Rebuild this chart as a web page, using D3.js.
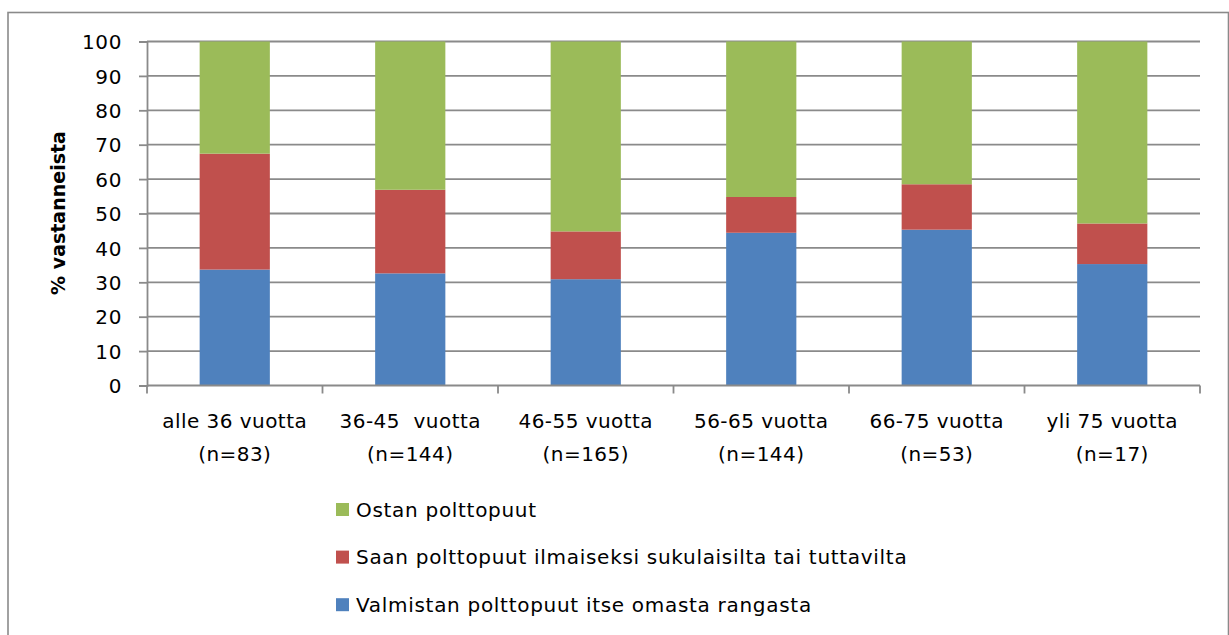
<!DOCTYPE html>
<html>
<head>
<meta charset="utf-8">
<script src="https://cdn.jsdelivr.net/npm/d3@7"></script>
<style>
  html, body { margin: 0; padding: 0; background: #fff; }
  svg { display: block; }
  text { font-family: "DejaVu Sans", sans-serif; fill: #000; }
</style>
</head>
<body>
<svg id="chart" width="1229" height="635"></svg>
<script>
const categories = ["alle 36 vuotta", "36-45  vuotta", "46-55 vuotta", "56-65 vuotta", "66-75 vuotta", "yli 75 vuotta"];
const categoryN = ["(n=83)", "(n=144)", "(n=165)", "(n=144)", "(n=53)", "(n=17)"];
const seriesNames = ["Valmistan polttopuut itse omasta rangasta", "Saan polttopuut ilmaiseksi sukulaisilta tai tuttavilta", "Ostan polttopuut"];
const valmistan = [33.7, 32.6, 30.9, 44.4, 45.3, 35.3];
const saan = [33.7, 24.3, 13.9, 10.4, 13.2, 11.8];
const ostan = [32.6, 43.1, 55.2, 45.2, 41.5, 52.9];
const yTicks = [0, 10, 20, 30, 40, 50, 60, 70, 80, 90, 100];
const colors = ["#4F81BD", "#C0504D", "#9BBB59"];
const yTitle = "% vastanneista";

const svg = d3.select("#chart");
const pLeft = 147, pRight = 1200, pTop = 41.5, pBottom = 385.5;

// outer border
svg.append("rect").attr("x", 8).attr("y", 12.5).attr("width", 1220.5).attr("height", 640)
  .attr("fill", "none").attr("stroke", "#8a8a8a").attr("stroke-width", 1.6);

const x = d3.scaleBand().domain(categories).range([pLeft, pRight]).paddingInner(0.6).paddingOuter(0.3);
const y = d3.scaleLinear().domain([0, 100]).range([pBottom, pTop]);

// gridlines
svg.append("g").selectAll("line").data(yTicks.filter(d => d > 0)).join("line")
  .attr("x1", pLeft).attr("x2", pRight)
  .attr("y1", d => y(d)).attr("y2", d => y(d))
  .attr("stroke", "#8a8a8a").attr("stroke-width", 1.8);

// stacked bars
const rows = categories.map((c, i) => ({cat: c, s0: valmistan[i], s1: saan[i], s2: ostan[i]}));
const stacked = d3.stack().keys(["s0", "s1", "s2"])(rows);
svg.append("g").selectAll("g").data(stacked).join("g")
  .attr("fill", (d, i) => colors[i])
  .selectAll("rect").data(d => d).join("rect")
  .attr("x", d => x(d.data.cat))
  .attr("width", x.bandwidth())
  .attr("y", d => y(d[1]))
  .attr("height", d => y(d[0]) - y(d[1]));

// y axis
const yAxis = d3.axisLeft(y).tickValues(yTicks).tickSize(8).tickPadding(17);
const gy = svg.append("g").attr("transform", `translate(${pLeft},0)`).call(yAxis);
gy.select(".domain").attr("stroke", "#8a8a8a").attr("stroke-width", 1.8);
gy.selectAll(".tick line").attr("stroke", "#8a8a8a").attr("stroke-width", 1.8);
gy.selectAll(".tick text").attr("font-family", "DejaVu Sans").attr("font-size", 20)
  .attr("letter-spacing", 0.6).attr("fill", "#000").attr("dy", "0.36em");

// x axis line and ticks at category boundaries
const boundaries = d3.range(categories.length + 1).map(i => pLeft + i * x.step());
svg.append("line").attr("x1", pLeft).attr("x2", pRight).attr("y1", pBottom).attr("y2", pBottom)
  .attr("stroke", "#8a8a8a").attr("stroke-width", 1.8);
svg.append("g").selectAll("line").data(boundaries).join("line")
  .attr("x1", d => d).attr("x2", d => d).attr("y1", pBottom).attr("y2", pBottom + 8)
  .attr("stroke", "#8a8a8a").attr("stroke-width", 1.8);

// x labels
const xl = svg.append("g").selectAll("text").data(categories).join("text")
  .attr("text-anchor", "middle").attr("font-size", 20).attr("letter-spacing", 0.45)
  .style("white-space", "pre");
xl.append("tspan").attr("x", d => x(d) + x.bandwidth() / 2).attr("y", 428).text(d => d);
xl.append("tspan").attr("x", d => x(d) + x.bandwidth() / 2).attr("y", 461).text((d, i) => categoryN[i]);

// y title
svg.append("text").attr("transform", "translate(65,213) rotate(-90)")
  .attr("text-anchor", "middle").attr("font-weight", "bold").attr("font-size", 19)
  .text(yTitle);

// legend (top to bottom: Ostan, Saan, Valmistan)
const legendOrder = [2, 1, 0];
const lg = svg.append("g").selectAll("g").data(legendOrder).join("g")
  .attr("transform", (d, i) => `translate(336,${516.5 + i * 47.6})`);
lg.append("rect").attr("x", 0).attr("y", -13.5).attr("width", 13).attr("height", 13)
  .attr("fill", d => colors[d]);
lg.append("text").attr("x", 20).attr("y", 0).attr("font-size", 20).attr("letter-spacing", 0.7)
  .text(d => seriesNames[d]);
</script>
</body>
</html>
